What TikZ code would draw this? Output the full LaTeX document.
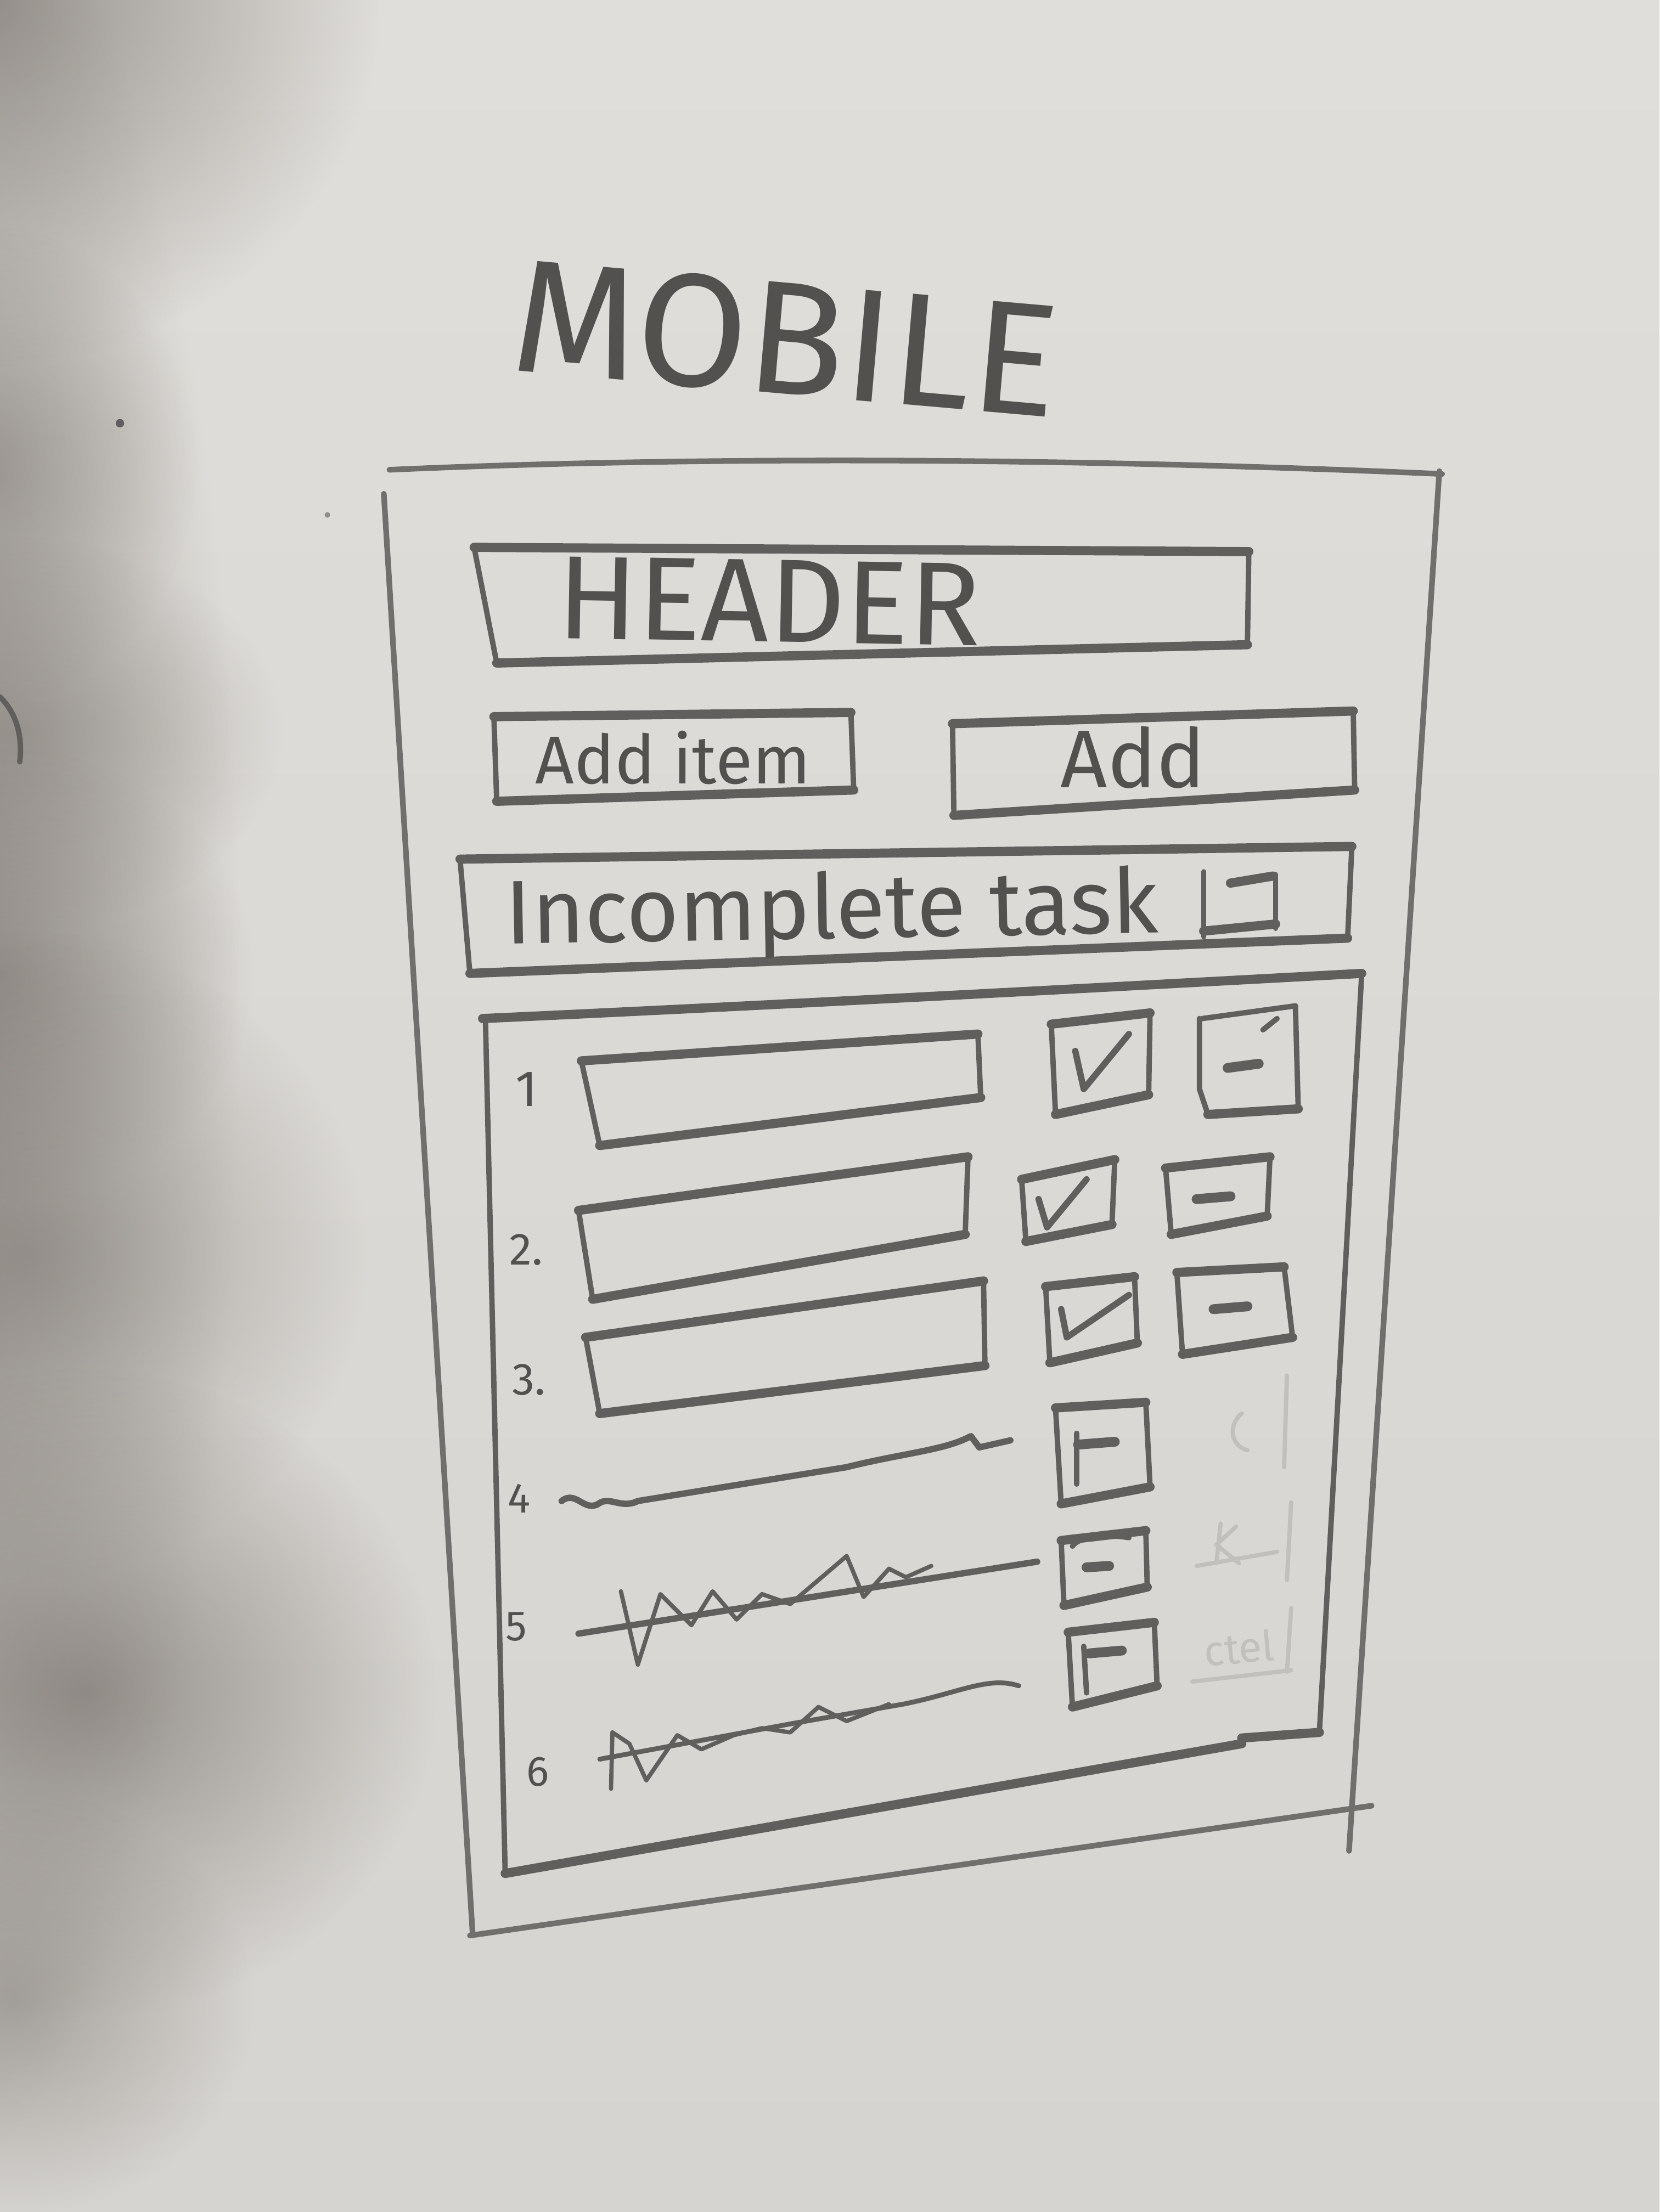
\documentclass[tikz,border=0pt]{standalone}
\usepackage{fontspec}
\setmainfont{Fira Sans}
\usetikzlibrary{fadings}
\definecolor{papertop}{RGB}{224,222,218}
\definecolor{paperbot}{RGB}{214,212,208}
\definecolor{shadowgrey}{RGB}{118,112,106}
\definecolor{lead}{RGB}{96,95,94}
\definecolor{leadtxt}{RGB}{82,81,80}
\definecolor{ghost}{RGB}{194,192,189}

% soft round spot: opaque in the middle, fading out linearly
\tikzfading[name=softspot, inner color=transparent!0, outer color=transparent!100]

\tikzset{
  heavy/.style={draw=lead, line width=6.5pt, line cap=round, line join=round},
  light/.style={draw=lead, line width=3.8pt, line cap=round, line join=round},
  frame/.style={draw=lead!90, line width=4pt, line cap=round, line join=round},
  tick/.style={draw=lead, line width=4.5pt, line cap=round, line join=round},
  minusbar/.style={draw=lead, line width=7pt, line cap=round},
  scrawl/.style={draw=lead, line width=4.5pt, line cap=round, line join=round},
  faint/.style={draw=ghost, line width=3pt, line cap=round},
  hand/.style={text=leadtxt, inner sep=0pt},
  blotch/.style={fill=shadowgrey, path fading=softspot},
}

% a hand-drawn box: darker long edges, thinner short edges
\newcommand\sketchbox[4]{%
  \draw[heavy] #1 -- #2;
  \draw[heavy] #4 -- #3;
  \draw[light] #1 -- #4;
  \draw[light] #2 -- #3;}

% shadow spot: centre, x radius, y radius, opacity
\newcommand\shadowspot[4]{%
  \fill[blotch, opacity=#4] #1 ellipse [x radius=#2, y radius=#3];}

\begin{document}
\begin{tikzpicture}[x=1pt,y=-1pt]
\useasboundingbox (0,0) rectangle (1176,1568);
\shade[top color=papertop, bottom color=paperbot] (0,0) rectangle (1176,1568);

% shadow falling across the left edge of the sheet
\shadowspot{(-60,700)}{230}{850}{0.6}
\shadowspot{(-10,0)}{280}{260}{0.7}
\shadowspot{(-10,330)}{150}{170}{0.5}
\shadowspot{(10,520)}{190}{140}{0.5}
\shadowspot{(0,690)}{180}{160}{0.5}
\shadowspot{(20,890)}{240}{230}{0.55}
\shadowspot{(60,1200)}{250}{230}{0.7}
\shadowspot{(10,1420)}{170}{150}{0.5}

% stray marks on the sheet
\fill[lead] (85,300) circle (3);
\draw[light] (0,494) .. controls (12,506) and (16,522) .. (14,540);
\fill[lead!70] (232,365) circle (2);

% title
\node[hand, font=\fontsize{114}{114}\selectfont, rotate=-5] (title) at (557,240) {MOBILE};

% phone outline
\draw[frame] (276,333) .. controls (520,322) and (800,326) .. (1022,336);
\draw[frame] (272,350) -- (335,1372);
\draw[frame] (1020,334) -- (956,1312);
\draw[frame] (333,1372) -- (972,1280);

% header bar
\sketchbox{(336,388)}{(885,391)}{(884,457)}{(352,470)}
\node[hand, font=\fontsize{84}{84}\selectfont, rotate=-1] (hdr) at (545,426) {HEADER};

% input field and add button
\sketchbox{(350,508)}{(603,505)}{(605,560)}{(352,568)}
\node[hand, font=\fontsize{48}{48}\selectfont] (additem) at (477,537) {Add item};
\sketchbox{(675,513)}{(959,504)}{(960,560)}{(676,578)}
\node[hand, font=\fontsize{58}{58}\selectfont] (addbtn) at (803,537) {Add};

% filter bar
\sketchbox{(326,609)}{(958,600)}{(955,665)}{(333,690)}
\node[hand, font=\fontsize{64}{64}\selectfont, anchor=west, rotate=1] (incomplete) at (358,652) {Incomplete task};
\draw[light] (853,618) -- (853,664);
\draw[light] (904,620) -- (904,658);
\draw[heavy] (853,660) -- (904,655);
\draw[heavy] (872,626) -- (902,621);

% task list panel
\draw[heavy] (342,722) .. controls (560,712) and (780,700) .. (965,690);
\draw[light] (344,722) -- (358,1328);
\draw[light] (965,690) -- (935,1228);
\draw[heavy] (935,1228) -- (880,1232);
\draw[heavy] (358,1328) -- (880,1236);

% row 1
\node[hand, font=\fontsize{36}{36}\selectfont] (n1) at (373,772) {1};
\sketchbox{(412,752)}{(693,733)}{(695,778)}{(425,812)}
\sketchbox{(745,726)}{(815,718)}{(814,776)}{(748,790)}
\draw[tick] (762,745) -- (768,772) -- (800,733);
\draw[light] (852,722) -- (918,713);
\draw[light] (918,713) -- (920,786);
\draw[heavy] (856,790) -- (920,786);
\draw[light] (850,722) -- (850,772) -- (856,790);
\draw[minusbar] (870,757) -- (892,754);
\draw[light] (895,730) -- (905,722);

% row 2
\node[hand, font=\fontsize{32}{32}\selectfont] (n2) at (373,886) {2.};
\sketchbox{(410,858)}{(686,820)}{(684,875)}{(420,921)}
\sketchbox{(724,836)}{(790,822)}{(788,868)}{(727,880)}
\draw[tick] (736,850) -- (742,870) -- (770,836);
\sketchbox{(826,828)}{(900,820)}{(898,862)}{(830,875)}
\draw[minusbar] (848,850) -- (872,848);

% row 3
\node[hand, font=\fontsize{32}{32}\selectfont] (n3) at (375,978) {3.};
\sketchbox{(415,948)}{(697,908)}{(698,968)}{(425,1002)}
\sketchbox{(741,912)}{(804,905)}{(806,952)}{(744,966)}
\draw[tick] (752,928) -- (756,948) -- (800,918);
\sketchbox{(834,902)}{(910,898)}{(916,948)}{(838,960)}
\draw[minusbar] (860,928) -- (884,926);

% row 4 (done, struck through)
\node[hand, font=\fontsize{30}{30}\selectfont] (n4) at (368,1062) {4};
\draw[scrawl] (398,1064) .. controls (408,1056) and (414,1072) .. (424,1066)
  .. controls (432,1060) and (440,1070) .. (452,1064)
  -- (600,1040) .. controls (640,1030) and (670,1028) .. (688,1018)
  -- (694,1026) -- (716,1021);
\sketchbox{(748,998)}{(812,994)}{(815,1054)}{(752,1066)}
\draw[light] (763,1016) -- (763,1052);
\draw[minusbar] (764,1024) -- (790,1022);

% row 5
\node[hand, font=\fontsize{30}{30}\selectfont] (n5) at (366,1153) {5};
\draw[scrawl] (410,1158) -- (735,1107);
\draw[scrawl, line width=3pt] (440,1128) -- (452,1180) -- (468,1130) -- (490,1152)
  -- (505,1128) -- (522,1148) -- (540,1130) -- (560,1137) -- (600,1103)
  -- (612,1132) -- (630,1112) -- (642,1118) -- (660,1110);
\sketchbox{(752,1092)}{(812,1085)}{(813,1125)}{(754,1138)}
\draw[minusbar] (770,1111) -- (786,1110);
\draw[light] (760,1096) .. controls (765,1088) and (790,1088) .. (800,1090);

% row 6
\node[hand, font=\fontsize{30}{30}\selectfont] (n6) at (381,1256) {6};
\draw[scrawl, line width=3.4pt] (425,1247) -- (560,1222) -- (640,1208)
  .. controls (680,1200) and (700,1188) .. (722,1195);
\draw[scrawl, line width=3pt] (433,1268) -- (434,1228) -- (446,1236) -- (458,1262)
  -- (480,1230) -- (497,1240) -- (520,1230) -- (540,1225) -- (560,1228)
  -- (580,1210) -- (600,1220) -- (630,1208);
\sketchbox{(757,1157)}{(818,1150)}{(820,1195)}{(760,1210)}
\draw[light] (768,1167) -- (770,1200);
\draw[minusbar] (772,1172) -- (795,1170);

% erased marks beside the done rows
\draw[faint] (912,975) -- (910,1040);
\draw[faint] (880,1002) .. controls (870,1010) and (872,1025) .. (884,1028);
\draw[faint] (915,1065) -- (912,1120);
\draw[faint] (865,1080) -- (862,1108);
\draw[faint] (862,1095) -- (876,1082);
\draw[faint] (862,1095) -- (878,1108);
\draw[faint] (848,1110) -- (905,1100);
\draw[faint] (915,1140) -- (912,1185);
\node[text=ghost, font=\fontsize{30}{30}\selectfont, inner sep=0pt, rotate=5] (erased) at (878,1168) {ctel};
\draw[faint] (845,1192) -- (915,1184);

\end{tikzpicture}
\end{document}
